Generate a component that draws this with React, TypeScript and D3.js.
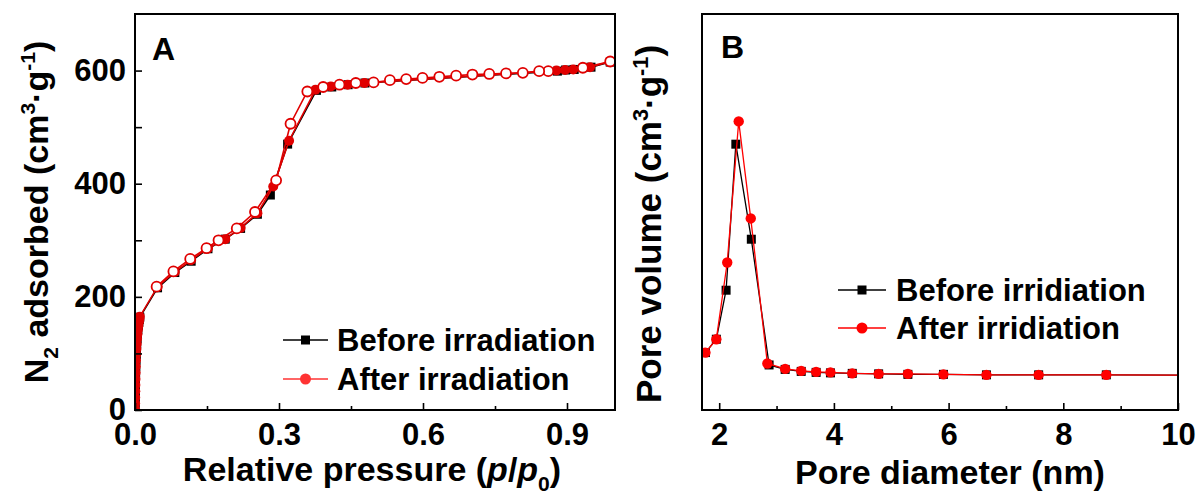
import { useEffect, useRef } from 'react';
import * as d3 from 'd3';

// panel A: N2 isotherms (relative pressure, adsorbed volume)
const beforeP = [0.0001, 0.0002, 0.0004, 0.0006, 0.0008, 0.001, 0.0013, 0.0016, 0.002, 0.0025, 0.003, 0.0036, 0.0043, 0.005, 0.006, 0.007, 0.008, 0.009, 0.010, 0.047, 0.083, 0.117, 0.152, 0.188, 0.220, 0.255, 0.282, 0.318, 0.378, 0.410, 0.444, 0.479, 0.880, 0.897, 0.915, 0.950, 0.990];
const beforeV = [2, 12, 22, 33, 44, 55, 66, 77, 88, 98, 108, 117, 126, 134, 142, 149, 155, 160, 164, 216, 243, 263, 285, 302, 321, 346, 380, 470, 565, 571, 575, 578, 599, 601, 602, 606, 615];
const afterP = [0.0001, 0.0002, 0.0004, 0.0006, 0.0008, 0.001, 0.0013, 0.0016, 0.002, 0.0025, 0.003, 0.0036, 0.0043, 0.005, 0.006, 0.007, 0.008, 0.009, 0.010, 0.047, 0.083, 0.117, 0.152, 0.188, 0.220, 0.255, 0.288, 0.321, 0.376, 0.408, 0.443, 0.478, 0.878, 0.896, 0.913, 0.948, 0.990];
const afterV = [2, 12, 22, 33, 44, 55, 66, 77, 88, 98, 108, 117, 126, 134, 142, 149, 155, 160, 165, 218, 244, 265, 286, 302, 322, 348, 395, 476, 566, 572, 575, 578, 600, 601, 602, 606, 616];
const desorbP = [0.990, 0.933, 0.861, 0.842, 0.808, 0.773, 0.738, 0.703, 0.669, 0.634, 0.599, 0.565, 0.531, 0.497, 0.460, 0.426, 0.392, 0.359, 0.324, 0.294, 0.250, 0.212, 0.174, 0.149, 0.115, 0.080, 0.045];
const desorbV = [616, 605, 599, 599, 596, 595, 594, 593, 591, 589, 587, 585, 583, 579, 578, 575, 571, 563, 506, 406, 350, 321, 300, 286, 267, 245, 218];

const xTicksA = [0, 0.3, 0.6, 0.9];
const xMinorA = [0.15, 0.45, 0.75];
const yTicksA = [0, 100, 200, 300, 400, 500, 600];

// panel B: pore size distribution (nm, arbitrary volume units)
const poreBeforeD = [1.76, 1.95, 2.12, 2.29, 2.56, 2.87, 3.15, 3.43, 3.69, 3.94, 4.32, 4.78, 5.29, 5.91, 6.66, 7.57, 8.75, 10.6, 12.5];
const poreBeforeV = [0.116, 0.143, 0.242, 0.537, 0.345, 0.091, 0.082, 0.078, 0.076, 0.075, 0.074, 0.073, 0.072, 0.072, 0.071, 0.071, 0.071, 0.070, 0.070];
const poreAfterD = [1.76, 1.95, 2.14, 2.34, 2.55, 2.84, 3.15, 3.43, 3.69, 3.94, 4.32, 4.78, 5.29, 5.91, 6.66, 7.57, 8.75, 10.6, 12.5];
const poreAfterV = [0.116, 0.143, 0.298, 0.583, 0.387, 0.094, 0.083, 0.079, 0.077, 0.076, 0.074, 0.073, 0.073, 0.072, 0.071, 0.071, 0.071, 0.070, 0.070];

const xTicksB = [2, 4, 6, 8, 10];
const xMinorB = [3, 5, 7, 9];

const FONT = 'Arial, "Liberation Sans", sans-serif';

type Part = [string, string?];

// text with sub/superscript/italic pieces
function rich(g, parts: Part[], size: number) {
  const t = g.append('text')
    .attr('font-family', FONT)
    .attr('font-weight', 'bold')
    .attr('font-size', size)
    .attr('text-anchor', 'middle');
  let shift = 0;
  parts.forEach(([s, kind]) => {
    const ts = t.append('tspan').text(s);
    let want = 0;
    if (kind === 'sub') { want = size * 0.28; ts.attr('font-size', size * 0.62); }
    if (kind === 'sup') { want = -size * 0.38; ts.attr('font-size', size * 0.62); }
    if (kind === 'it') ts.attr('font-style', 'italic');
    if (want !== shift) { ts.attr('dy', want - shift); shift = want; }
  });
  return t;
}

export default function App() {
  const ref = useRef(null);

  useEffect(() => {
    const svg = d3.select(ref.current);
    svg.selectAll('*').remove();

    // ---------- panel A ----------
    const xA = d3.scaleLinear().domain([0, 1]).range([135, 615]);
    const yA = d3.scaleLinear().domain([0, 700]).range([410, 14]);

    svg.append('clipPath').attr('id', 'clipA').append('rect')
      .attr('x', 135).attr('y', 14).attr('width', 480).attr('height', 396);

    const plotA = svg.append('g').attr('clip-path', 'url(#clipA)');
    const lineA = d3.line().x(d => xA(d[0])).y(d => yA(d[1]));

    const bef = beforeP.map((p, i) => [p, beforeV[i]]);
    const aft = afterP.map((p, i) => [p, afterV[i]]);
    const des = desorbP.map((p, i) => [p, desorbV[i]]);

    plotA.append('path').attr('d', lineA(bef)).attr('fill', 'none').attr('stroke', '#000').attr('stroke-width', 1.6);
    plotA.selectAll('.sqA').data(bef).join('rect')
      .attr('x', d => xA(d[0]) - 4.5).attr('y', d => yA(d[1]) - 4.5)
      .attr('width', 9).attr('height', 9).attr('fill', '#000');

    plotA.append('path').attr('d', lineA(aft)).attr('fill', 'none').attr('stroke', '#e00000').attr('stroke-width', 1.6);
    plotA.selectAll('.ciA').data(aft).join('circle')
      .attr('cx', d => xA(d[0])).attr('cy', d => yA(d[1])).attr('r', 5)
      .attr('fill', '#e00000');

    plotA.append('path').attr('d', lineA(des)).attr('fill', 'none').attr('stroke', '#e00000').attr('stroke-width', 1.6);
    plotA.selectAll('.opA').data(des).join('circle')
      .attr('cx', d => xA(d[0])).attr('cy', d => yA(d[1])).attr('r', 5)
      .attr('fill', '#fff').attr('stroke', '#e00000').attr('stroke-width', 1.8);

    // axes A (ticks inward)
    const axA = svg.append('g').attr('font-family', FONT);
    axA.append('g').attr('transform', 'translate(0,410)')
      .call(d3.axisBottom(xA).tickValues(xTicksA).tickSize(-7).tickPadding(13).tickFormat(d3.format('.1f')));
    axA.append('g').attr('transform', 'translate(0,410)')
      .call(d3.axisBottom(xA).tickValues(xMinorA).tickSize(-4).tickFormat(() => ''));
    axA.append('g').attr('transform', 'translate(135,0)')
      .call(d3.axisLeft(yA).tickValues(yTicksA).tickSize(-7).tickPadding(9).tickFormat(d => (d % 200 === 0 ? String(d) : '')));
    axA.selectAll('.domain').remove();
    axA.selectAll('.tick line').attr('stroke-width', 1.6);
    axA.selectAll('.tick text').attr('font-size', 31).attr('font-weight', 'bold').attr('fill', '#000');
    svg.append('rect').attr('x', 135).attr('y', 14).attr('width', 480).attr('height', 396)
      .attr('fill', 'none').attr('stroke', '#000').attr('stroke-width', 2);

    // ---------- panel B ----------
    const xB = d3.scaleLinear().domain([1.7, 10]).range([702, 1178]);
    const yB = d3.scaleLinear().domain([0, 0.8]).range([410, 14]);

    svg.append('clipPath').attr('id', 'clipB').append('rect')
      .attr('x', 702).attr('y', 14).attr('width', 476).attr('height', 396);
    const plotB = svg.append('g').attr('clip-path', 'url(#clipB)');
    const lineB = d3.line().x(d => xB(d[0])).y(d => yB(d[1]));

    const pb = poreBeforeD.map((d, i) => [d, poreBeforeV[i]]);
    const pa = poreAfterD.map((d, i) => [d, poreAfterV[i]]);

    plotB.append('path').attr('d', lineB(pb)).attr('fill', 'none').attr('stroke', '#000').attr('stroke-width', 1.3);
    plotB.selectAll('.sqB').data(pb).join('rect')
      .attr('x', d => xB(d[0]) - 4.5).attr('y', d => yB(d[1]) - 4.5)
      .attr('width', 9).attr('height', 9).attr('fill', '#000');
    plotB.append('path').attr('d', lineB(pa)).attr('fill', 'none').attr('stroke', '#ff0000').attr('stroke-width', 1.3);
    plotB.selectAll('.ciB').data(pa).join('circle')
      .attr('cx', d => xB(d[0])).attr('cy', d => yB(d[1])).attr('r', 5.2)
      .attr('fill', '#ff0000');

    const axB = svg.append('g').attr('font-family', FONT);
    axB.append('g').attr('transform', 'translate(0,410)')
      .call(d3.axisBottom(xB).tickValues(xTicksB).tickSize(-7).tickPadding(13).tickFormat(d3.format('d')));
    axB.append('g').attr('transform', 'translate(0,410)')
      .call(d3.axisBottom(xB).tickValues(xMinorB).tickSize(-4).tickFormat(() => ''));
    axB.selectAll('.domain').remove();
    axB.selectAll('.tick line').attr('stroke-width', 1.6);
    axB.selectAll('.tick text').attr('font-size', 31).attr('font-weight', 'bold').attr('fill', '#000');
    svg.append('rect').attr('x', 702).attr('y', 14).attr('width', 476).attr('height', 396)
      .attr('fill', 'none').attr('stroke', '#000').attr('stroke-width', 2);

    // ---------- labels ----------
    const lbl = (x, y, s) => svg.append('text').attr('x', x).attr('y', y)
      .attr('font-family', FONT).attr('font-weight', 'bold').attr('font-size', 32).text(s);
    lbl(152, 60, 'A');
    lbl(721, 58, 'B');

    rich(svg.append('g').attr('transform', 'translate(372,481)'),
      [['Relative pressure ('], ['p', 'it'], ['/'], ['p', 'it'], ['0', 'sub'], [')']], 34);
    rich(svg.append('g').attr('transform', 'translate(950,484)'),
      [['Pore diameter (nm)']], 34);
    rich(svg.append('g').attr('transform', 'translate(48,212) rotate(-90)'),
      [['N'], ['2', 'sub'], [' adsorbed (cm'], ['3', 'sup'], ['·g'], ['-1', 'sup'], [')']], 34);
    rich(svg.append('g').attr('transform', 'translate(661,224) rotate(-90)'),
      [['Pore volume (cm'], ['3', 'sup'], ['·g'], ['-1', 'sup'], [')']], 35);

    // ---------- legends ----------
    const legend = (x0, x1, y, color, shape, text, tx) => {
      svg.append('line').attr('x1', x0).attr('x2', x1).attr('y1', y).attr('y2', y)
        .attr('stroke', color).attr('stroke-width', 1.5);
      const mx = (x0 + x1) / 2;
      if (shape === 'sq') {
        svg.append('rect').attr('x', mx - 4.5).attr('y', y - 4.5).attr('width', 9).attr('height', 9).attr('fill', color);
      } else {
        svg.append('circle').attr('cx', mx).attr('cy', y).attr('r', 5.5).attr('fill', color);
      }
      svg.append('text').attr('x', tx).attr('y', y + 11)
        .attr('font-family', FONT).attr('font-weight', 'bold').attr('font-size', 31).text(text);
    };
    legend(283, 328, 340, '#000', 'sq', 'Before irradiation', 337);
    legend(283, 328, 379, '#ff3333', 'ci', 'After irradiation', 337);
    legend(838, 886, 290, '#000', 'sq', 'Before irridiation', 896);
    legend(838, 886, 328, '#ff0000', 'ci', 'After irridiation', 896);
  }, []);

  return (
    <svg ref={ref} width={1198} height={492}
      style={{ position: 'absolute', left: 0, top: 0, background: '#fff' }} />
  );
}
